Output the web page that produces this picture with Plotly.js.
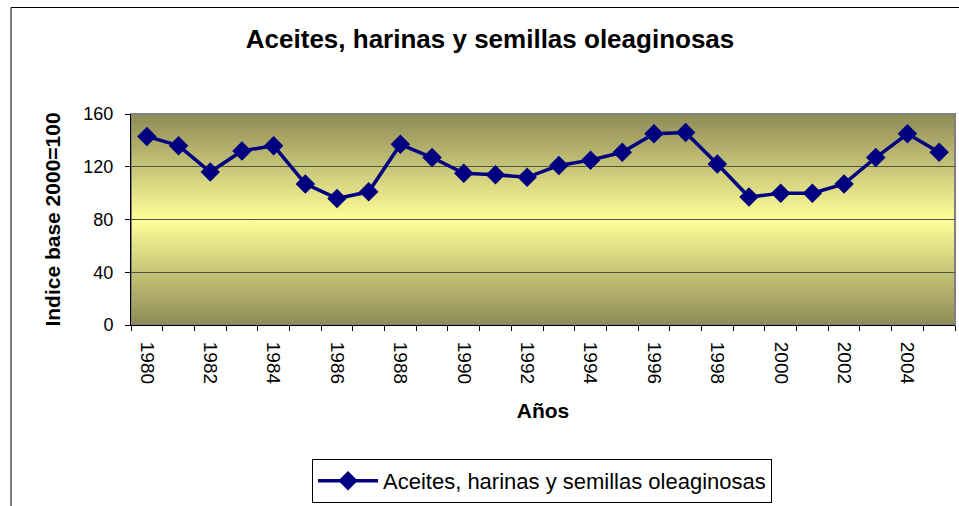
<!DOCTYPE html>
<html>
<head>
<meta charset="utf-8">
<script src="https://cdn.plot.ly/plotly-3.0.1.min.js"></script>
<style>
  html, body { margin: 0; padding: 0; background: #ffffff; overflow: hidden; }
  #chart { width: 959px; height: 506px; }
</style>
</head>
<body>
<div id="chart"></div>
<script>
// ---- data ----
const years = [1980, 1981, 1982, 1983, 1984, 1985, 1986, 1987, 1988, 1989,
               1990, 1991, 1992, 1993, 1994, 1995, 1996, 1997, 1998, 1999,
               2000, 2001, 2002, 2003, 2004, 2005];
const indexValues = [143, 136, 116, 132, 136, 107, 96, 101, 137, 127,
                     115, 114, 112, 121, 125, 131, 145, 146, 122, 97,
                     100, 100, 107, 127, 145, 131];
const tickYears = [1980, 1982, 1984, 1986, 1988, 1990, 1992, 1994, 1996, 1998, 2000, 2002, 2004];
const tickLabels = ["1980", "1982", "1984", "1986", "1988", "1990", "1992", "1994", "1996", "1998", "2000", "2002", "2004"];
const seriesName = "Aceites, harinas y semillas oleaginosas";
const chartTitle = "Aceites, harinas y semillas oleaginosas";
const yTitle = "Indice base 2000=100";
const xTitle = "Años";

// ---- background gradient (plot area) ----
const gradSvg =
  '<svg xmlns="http://www.w3.org/2000/svg" width="100" height="100" preserveAspectRatio="none">' +
  '<defs><linearGradient id="g" x1="0" y1="0" x2="0" y2="1">' +
  '<stop offset="0" stop-color="#8e8a56"/>' +
  '<stop offset="0.5" stop-color="#ffff99"/>' +
  '<stop offset="1" stop-color="#8e8a56"/>' +
  '</linearGradient></defs>' +
  '<rect x="0" y="0" width="100" height="100" fill="url(#g)"/></svg>';
const gradUri = 'data:image/svg+xml;base64,' + btoa(gradSvg);

const FONT = 'Liberation Sans, Arial, sans-serif';

const trace = {
  x: years,
  y: indexValues,
  type: 'scatter',
  mode: 'lines+markers',
  name: seriesName,
  line: { color: '#000080', width: 3.5 },
  marker: { symbol: 'diamond', size: 15, color: '#000080' },
  cliponaxis: false
};

const layout = {
  width: 959,
  height: 506,
  margin: { l: 131, r: 4, t: 114, b: 180 },
  paper_bgcolor: '#ffffff',
  plot_bgcolor: 'rgba(0,0,0,0)',
  font: { family: FONT, color: '#000000' },
  title: {
    text: '<b>' + chartTitle + '</b>',
    font: { family: FONT, size: 26, color: '#000000' },
    x: 0.511, xref: 'container', xanchor: 'center',
    y: 0.923, yref: 'container', yanchor: 'middle'
  },
  xaxis: {
    type: 'linear',
    range: [1979.5, 2005.5],
    tickmode: 'array',
    tickvals: tickYears,
    ticktext: tickLabels,
    tickangle: 90,
    ticks: '',
    ticklabelstandoff: 12,
    tickfont: { family: FONT, size: 19, color: '#000000' },
    showgrid: false,
    zeroline: false,
    showline: true,
    linecolor: '#000000',
    linewidth: 1,
    minor: { tickmode: 'linear', tick0: 1979.5, dtick: 1, ticks: 'outside', ticklen: 5, tickcolor: '#000000', tickwidth: 1, showgrid: false },
    title: { text: '<b>' + xTitle + '</b>', font: { family: FONT, size: 21, color: '#000000' }, standoff: 19 },
    fixedrange: true
  },
  yaxis: {
    range: [0, 160],
    tickmode: 'linear',
    tick0: 0,
    dtick: 40,
    ticks: 'outside',
    ticklen: 5,
    tickcolor: '#000000',
    ticklabelstandoff: 8,
    tickfont: { family: FONT, size: 18, color: '#000000' },
    showgrid: true,
    gridcolor: '#55553f',
    gridwidth: 1,
    zeroline: false,
    showline: true,
    linecolor: '#000000',
    linewidth: 1,
    title: { text: '<b>' + yTitle + '</b>', font: { family: FONT, size: 21, color: '#000000' }, standoff: 17 },
    fixedrange: true
  },
  images: [{
    source: gradUri,
    xref: 'paper', yref: 'paper',
    x: 0, y: 1, sizex: 1, sizey: 1,
    xanchor: 'left', yanchor: 'top',
    sizing: 'stretch',
    layer: 'below'
  }],
  shapes: [
    { type: 'rect', xref: 'paper', yref: 'paper', x0: 0, x1: 1, y0: 0, y1: 1,
      line: { color: '#808080', width: 2 }, fillcolor: 'rgba(0,0,0,0)', layer: 'below' },
    { type: 'rect', xref: 'paper', yref: 'paper', x0: -0.1456, x1: 1.02, y0: -0.9, y1: 1.5047,
      line: { color: '#000000', width: 1 }, fillcolor: 'rgba(0,0,0,0)', layer: 'above' }
  ],
  showlegend: true,
  legend: {
    x: 0.4988, xanchor: 'center',
    y: -0.627, yanchor: 'top',
    orientation: 'h',
    bgcolor: '#ffffff',
    bordercolor: '#000000',
    borderwidth: 1,
    itemwidth: 60,
    font: { family: FONT, size: 22, color: '#000000' }
  },
  hovermode: false
};

Plotly.newPlot('chart', [trace], layout, { displayModeBar: false, staticPlot: true });
</script>
</body>
</html>
